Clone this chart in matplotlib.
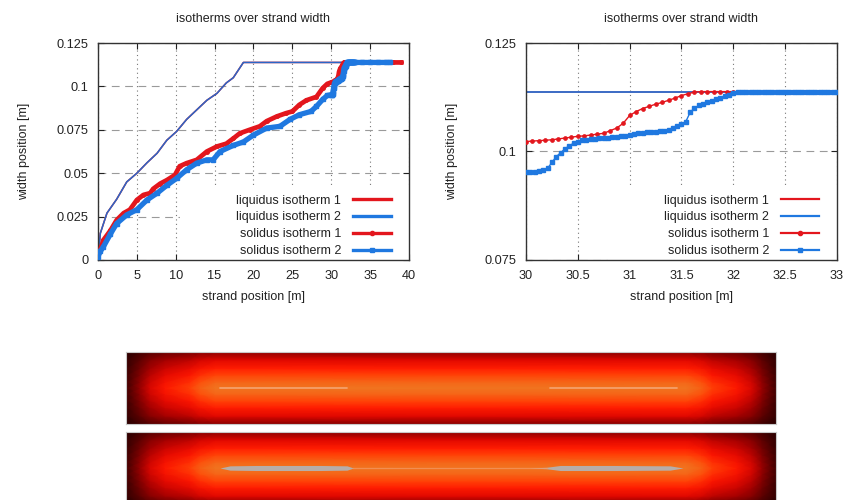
import numpy as np
import matplotlib
matplotlib.use("Agg")
import matplotlib.pyplot as plt
from matplotlib.colors import LinearSegmentedColormap
from matplotlib.patches import Rectangle
from matplotlib.lines import Line2D

plt.rcParams['font.family'] = ['Liberation Sans', 'DejaVu Sans']

RED = '#e3161d'
BLUE = '#1f78e0'
TXT = '#222222'

# ---------------- isotherm data: strand position [m] / width position [m] ----------------
liquidus2_x = [0, 0.3, 1.15, 2.4, 3.7, 5.0, 6.3, 7.6, 8.85, 10.1, 11.4, 12.7, 14.0,
               15.3, 16.5, 17.4, 18.7, 33.0, 37.5]
liquidus2_y = [0, 0.0154, 0.027, 0.035, 0.045, 0.050, 0.056, 0.0615, 0.069, 0.074,
               0.081, 0.0865, 0.092, 0.096, 0.102, 0.105, 0.1138, 0.1138, 0.1138]
# liquidus 1 runs along liquidus 2
liquidus1_x = list(liquidus2_x)
liquidus1_y = list(liquidus2_y)

solidus1_x_head = [0, 0.7, 1.6, 2.4, 3.3, 4.1, 5.0, 5.85, 6.7, 7.1, 8.0, 8.85, 9.9, 10.5,
                   11.4, 12.7, 14.0, 15.3, 16.5, 17.4, 18.25, 19.5, 20.8, 21.7, 23.0,
                   24.2, 25.0, 25.9, 26.8, 28.1, 28.9, 29.5]
solidus1_y_head = [0.002, 0.0115, 0.017, 0.023, 0.027, 0.029, 0.0346, 0.0375, 0.0385,
                   0.041, 0.044, 0.046, 0.049, 0.054, 0.0558, 0.0577, 0.0625, 0.0654,
                   0.067, 0.070, 0.073, 0.075, 0.077, 0.080, 0.0827, 0.0846, 0.0856,
                   0.0894, 0.092, 0.094, 0.099, 0.1015]
solidus1_y_detail = [0.1023, 0.1024, 0.1025, 0.1026, 0.1027, 0.1029, 0.1031, 0.1033,
                     0.1035, 0.1036, 0.1038, 0.1040, 0.1042, 0.1048, 0.1054, 0.1065,
                     0.1083, 0.1092, 0.1099, 0.1104, 0.1109, 0.1113, 0.1118, 0.1123,
                     0.1129, 0.1133, 0.1137, 0.1138] + [0.1138] * 21
solidus1_x_tail = [34, 35, 36, 37, 38, 39]
solidus1_y_tail = [0.1138] * 6

solidus2_x_head = [0, 0.3, 0.7, 1.6, 2.4, 3.7, 5.0, 6.3, 7.6, 8.85, 10.1, 11.4, 12.7,
                   14.0, 14.8, 15.7, 17.4, 18.7, 20.0, 21.7, 23.4, 24.7, 25.9, 27.4,
                   28.1, 28.9, 29.5]
solidus2_y_head = [0.002, 0.005, 0.0077, 0.015, 0.021, 0.026, 0.029, 0.0346, 0.0385,
                   0.043, 0.047, 0.052, 0.0558, 0.0577, 0.0577, 0.0625, 0.066, 0.068,
                   0.072, 0.076, 0.077, 0.081, 0.0837, 0.0856, 0.0885, 0.0925, 0.0948]
solidus2_y_detail = [0.0952, 0.0952, 0.0953, 0.0955, 0.0957, 0.0961, 0.0975, 0.0988,
                     0.0997, 0.1006, 0.1013, 0.1019, 0.1023, 0.1026, 0.1027, 0.1028,
                     0.1029, 0.1030, 0.1031, 0.1032, 0.1033, 0.1034, 0.1035, 0.1036,
                     0.1038, 0.1040, 0.1042, 0.1043, 0.1044, 0.1045, 0.1046, 0.1047,
                     0.1048, 0.1050, 0.1054, 0.1059, 0.1063, 0.1069, 0.1090, 0.1100,
                     0.1106, 0.1110, 0.1113, 0.1116, 0.1120, 0.1123, 0.1127, 0.1131,
                     0.1134, 0.1137, 0.1138] + [0.1138] * 22
solidus2_x_tail = [34, 35, 36, 37, 37.5]
solidus2_y_tail = [0.1138] * 5

# sampling of the detailed section 30 m .. 33 m
solidus1_x_detail = list(np.linspace(30, 33, len(solidus1_y_detail)))
solidus2_x_detail = list(np.linspace(30, 33, len(solidus2_y_detail)))

solidus1_x = solidus1_x_head + solidus1_x_detail + solidus1_x_tail
solidus1_y = solidus1_y_head + solidus1_y_detail + solidus1_y_tail
solidus2_x = solidus2_x_head + solidus2_x_detail + solidus2_x_tail
solidus2_y = solidus2_y_head + solidus2_y_detail + solidus2_y_tail

labels = ['liquidus isotherm 1', 'liquidus isotherm 2',
          'solidus isotherm 1', 'solidus isotherm 2']

overview_xticks = [0, 5, 10, 15, 20, 25, 30, 35, 40]
overview_xticklabels = ['0', '5', '10', '15', '20', '25', '30', '35', '40']
overview_yticks = [0, 0.025, 0.05, 0.075, 0.1, 0.125]
overview_yticklabels = ['0', '0.025', '0.05', '0.075', '0.1', '0.125']
detail_xticks = [30, 30.5, 31, 31.5, 32, 32.5, 33]
detail_xticklabels = ['30', '30.5', '31', '31.5', '32', '32.5', '33']
detail_yticks = [0.075, 0.1, 0.125]
detail_yticklabels = ['0.075', '0.1', '0.125']

# ---------------- temperature field of the strand (normalised) ----------------
length_pos = [0, 0.0215, 0.037, 0.06, 0.098, 0.114, 0.137, 0.5,
              0.863, 0.886, 0.902, 0.94, 0.963, 0.9785, 1.0]
length_temp = [0.16, 0.42, 0.60, 0.74, 0.85, 0.94, 1.0, 1.0,
               1.0, 0.94, 0.85, 0.74, 0.60, 0.42, 0.16]
width_pos = [-1, -0.78, -0.55, -0.36, -0.17, 0, 0.17, 0.36, 0.55, 0.78, 1]
width_temp = [0.38, 0.62, 0.76, 0.86, 0.95, 1.0, 0.95, 0.86, 0.76, 0.62, 0.38]

# solid core of the lower strand: length fraction / half thickness
core_left_x = [0.1446, 0.16, 0.20, 0.30, 0.34, 0.35]
core_left_h = [0.0, 0.06, 0.07, 0.07, 0.06, 0.0]
core_right_x = [0.62, 0.647, 0.668, 0.75, 0.837, 0.857]
core_right_h = [0.0, 0.02, 0.07, 0.07, 0.06, 0.0]
# thin liquid-core lines (length fraction ranges)
upper_core_lines = [(0.145, 0.34), (0.652, 0.848)]
lower_core_line = (0.35, 0.647)

heat_cmap = LinearSegmentedColormap.from_list(
    'strand', [(0.0, '#1a0000'), (0.2, '#4a0000'), (0.45, '#a00000'),
               (0.62, '#e00800'), (0.75, '#ff1800'), (0.88, '#ff4a08'),
               (1.0, '#f07420')])

W, H = 845, 500
fig = plt.figure(figsize=(W / 100, H / 100), dpi=100)
fig.patch.set_facecolor('white')


def px_axes(x0, y0, x1, y1):
    return fig.add_axes([x0 / W, 1 - y1 / H, (x1 - x0) / W, (y1 - y0) / H])


def style(ax, xticks, xlabels_, yticks, ylabels_):
    ax.set_xticks(xticks)
    ax.set_xticklabels(xlabels_)
    ax.set_yticks(yticks)
    ax.set_yticklabels(ylabels_)
    ax.tick_params(direction='in', length=4, width=0.8, top=True, right=True,
                   labelsize=9.2, colors=TXT, pad=7)
    ax.set_axisbelow(True)
    ax.grid(axis='x', linestyle=(0, (1, 3)), color='#777777', lw=0.8)
    ax.grid(axis='y', linestyle=(0, (7, 5)), color='#9a9a9a', lw=0.8)
    for s in ax.spines.values():
        s.set_color('#333333')
        s.set_linewidth(1.0)
    ax.set_title('isotherms over strand width', fontsize=9, color=TXT, pad=15)
    ax.set_xlabel('strand position [m]', fontsize=9, color=TXT, labelpad=7)
    ax.set_ylabel('width position [m]', fontsize=9, color=TXT, labelpad=19)
    # opaque key area
    ax.add_patch(Rectangle((0.264, 0.0), 0.736, 0.335, transform=ax.transAxes,
                           facecolor='white', edgecolor='none', zorder=1))


def key(ax, lw_line):
    handles = [
        Line2D([], [], color=RED, lw=lw_line),
        Line2D([], [], color=BLUE, lw=lw_line),
        Line2D([], [], color=RED, lw=lw_line, marker='o', ms=3),
        Line2D([], [], color=BLUE, lw=lw_line, marker='s', ms=2.8),
    ]
    leg = ax.legend(handles, labels, loc='lower right', bbox_to_anchor=(0.955, -0.003),
                    markerfirst=False, frameon=False, fontsize=9, handlelength=3.1,
                    handletextpad=0.9, labelspacing=0.38, borderaxespad=0.0,
                    borderpad=0.3, numpoints=1)
    for t in leg.get_texts():
        t.set_color(TXT)
    leg.set_zorder(5)


# ---------------- overview plot ----------------
ax1 = px_axes(98, 43, 409, 260)
ax1.plot(liquidus1_x, liquidus1_y, color=RED, lw=1.1, zorder=2)
ax1.plot(liquidus2_x, liquidus2_y, color='#2a66c8', lw=1.1, zorder=2)
ax1.plot(solidus1_x, solidus1_y, color=RED, lw=3.4, marker='o', ms=2.5,
         solid_joinstyle='round', zorder=3)
ax1.plot(solidus2_x, solidus2_y, color=BLUE, lw=3.8, marker='s', ms=2.5,
         solid_joinstyle='round', zorder=3)
ax1.set_xlim(0, 40)
ax1.set_ylim(0, 0.125)
style(ax1, overview_xticks, overview_xticklabels, overview_yticks, overview_yticklabels)
key(ax1, 2.4)

# ---------------- detail plot ----------------
ax2 = px_axes(526, 43, 837, 260)
ax2.plot(liquidus1_x, liquidus1_y, color=RED, lw=1.2, zorder=2)
ax2.plot(liquidus2_x, liquidus2_y, color=BLUE, lw=1.2, zorder=2)
ax2.plot(solidus1_x, solidus1_y, color=RED, lw=1.0, marker='o', ms=2.8, mew=0.5, zorder=3)
ax2.plot(solidus2_x, solidus2_y, color=BLUE, lw=1.0, marker='s', ms=2.8, zorder=3)
ax2.set_xlim(30, 33)
ax2.set_ylim(0.075, 0.125)
style(ax2, detail_xticks, detail_xticklabels, detail_yticks, detail_yticklabels)
key(ax2, 1.6)

# ---------------- strand temperature fields ----------------
X, Y = np.meshgrid(length_pos, width_pos)
field = np.outer(width_temp, length_temp)


def strand(ax, lenses):
    ax.pcolormesh(X, Y, field, shading='gouraud', cmap=heat_cmap, vmin=0, vmax=1)
    ax.set_xlim(0, 1)
    ax.set_ylim(-1, 1)
    ax.set_xticks([])
    ax.set_yticks([])
    for s in ax.spines.values():
        s.set_color('#c8c8c8')
        s.set_linewidth(0.8)
    if not lenses:
        for a, b in upper_core_lines:
            ax.plot([a, b], [0, 0], color='#f5a878', lw=1.3, alpha=0.85,
                    solid_capstyle='round')
    else:
        a, b = lower_core_line
        ax.plot([a, b], [0, 0], color='#f29a68', lw=0.9, alpha=0.7)
        for cx, ch in ((core_left_x, core_left_h), (core_right_x, core_right_h)):
            ax.fill_between(cx, -np.array(ch), ch, color='#b6aeaa', lw=0)


ax3 = px_axes(126, 352, 776, 424)
strand(ax3, False)
ax4 = px_axes(126, 432, 776, 504)
strand(ax4, True)

fig.savefig('out.png', dpi=100, facecolor='white')
